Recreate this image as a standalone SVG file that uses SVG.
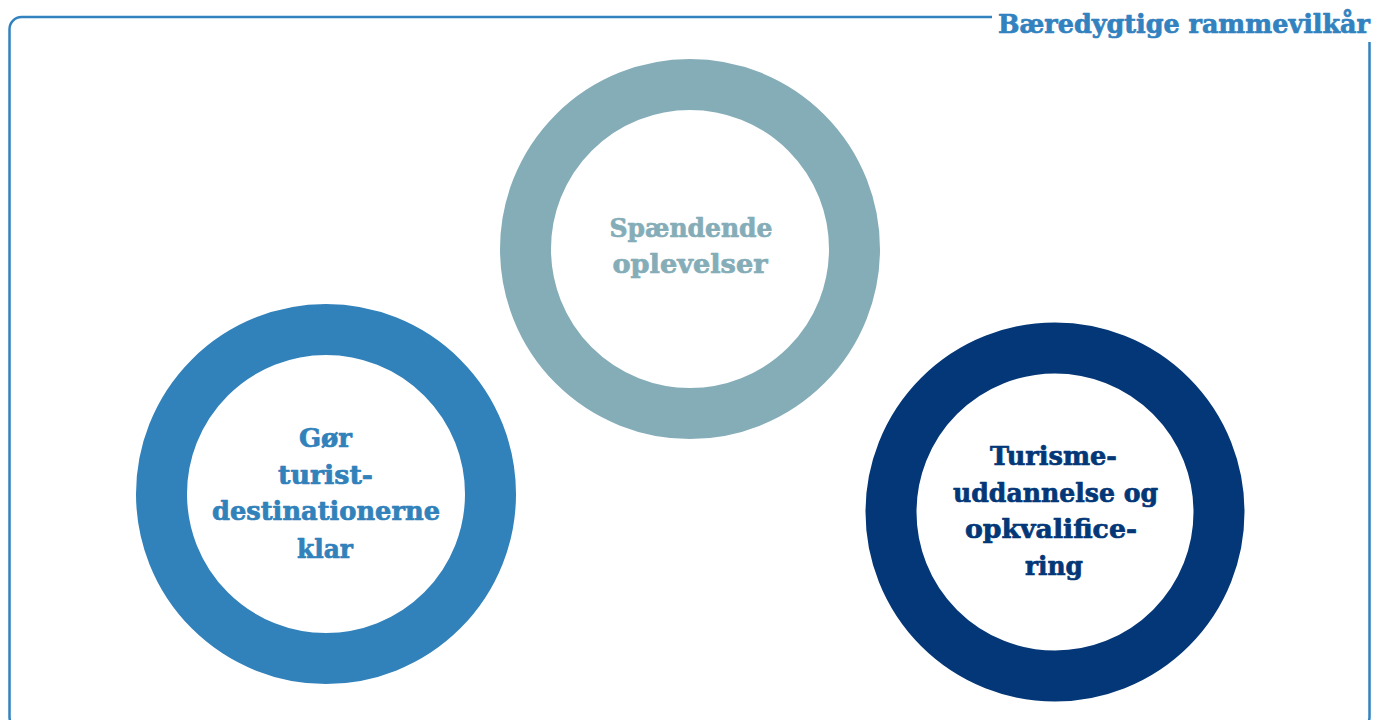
<svg xmlns="http://www.w3.org/2000/svg" width="1378" height="720" viewBox="0 0 1378 720">
<style>
.frame{fill:none;stroke:#3282BF;stroke-width:2.5}
.ring{fill:#fff;stroke-width:51}
.t{font-family:"DejaVu Serif","Liberation Serif",serif;font-weight:bold;font-size:25.5px;text-anchor:middle;stroke-width:0.7px;stroke-linejoin:round}
</style>
<rect width="1378" height="720" fill="#fff"/>
<g id="frame">
<path class="frame" d="M992 17 H21.5 A12 12 0 0 0 9.5 29 V717 A12 12 0 0 0 21.5 729"/>
<path class="frame" d="M1369.5 42 V717 A12 12 0 0 1 1357.5 729"/>
<text class="t" x="1184" y="33" fill="#3282BF" stroke="#3282BF" textLength="372" lengthAdjust="spacingAndGlyphs">Bæredygtige rammevilkår</text>
</g>
<g id="connectors"></g>
<g id="node-oplevelser">
<circle class="ring" cx="690" cy="249" r="164.5" stroke="#85ADB8"/>
<g class="t" fill="#85ADB8" stroke="#85ADB8">
<text x="691" y="237" textLength="163" lengthAdjust="spacingAndGlyphs">Spændende</text>
<text x="690" y="273" textLength="155" lengthAdjust="spacingAndGlyphs">oplevelser</text>
</g>
</g>
<g id="node-destinationer">
<circle class="ring" cx="326" cy="494" r="164.5" stroke="#3181BB"/>
<g class="t" fill="#3181BB" stroke="#3181BB">
<text x="325.5" y="447" textLength="53" lengthAdjust="spacingAndGlyphs">Gør</text>
<text x="325.5" y="484" textLength="95" lengthAdjust="spacingAndGlyphs">turist-</text>
<text x="326" y="520" textLength="228" lengthAdjust="spacingAndGlyphs">destinationerne</text>
<text x="325" y="558" textLength="56" lengthAdjust="spacingAndGlyphs">klar</text>
</g>
</g>
<g id="node-uddannelse">
<circle class="ring" cx="1055" cy="512" r="164" stroke="#043777"/>
<g class="t" fill="#043777" stroke="#043777">
<text x="1053.5" y="465" textLength="127" lengthAdjust="spacingAndGlyphs">Turisme-</text>
<text x="1055.5" y="502" textLength="205" lengthAdjust="spacingAndGlyphs">uddannelse og</text>
<text x="1051" y="538" textLength="172" lengthAdjust="spacingAndGlyphs">opkvalifice-</text>
<text x="1054" y="575" textLength="58" lengthAdjust="spacingAndGlyphs">ring</text>
</g>
</g>
</svg>
